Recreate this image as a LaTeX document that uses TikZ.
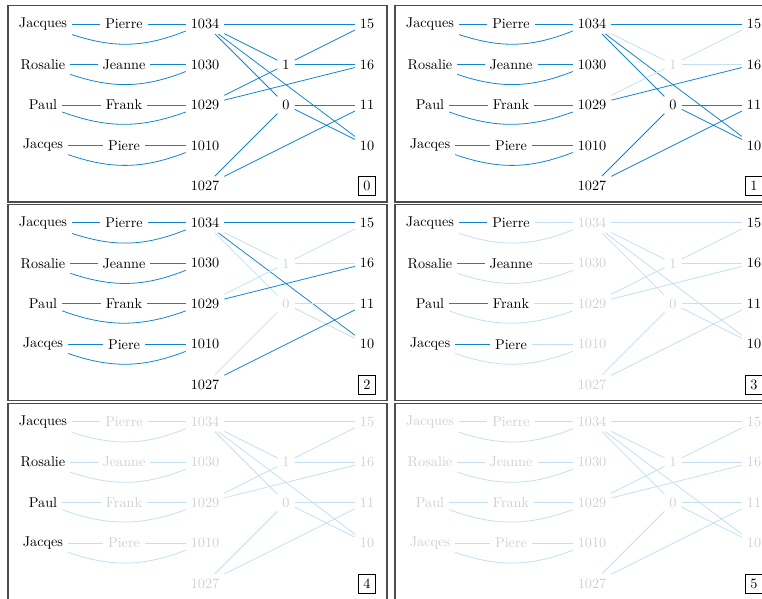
\documentclass[tikz,border=0pt]{standalone}
\definecolor{lnblue}{RGB}{16,132,204}
\colorlet{lnfade}{lnblue!25}
\colorlet{txfade}{black!18}
\colorlet{framegray}{black!70}
\tikzset{
  ton/.style={text=black},
  toff/.style={text=txfade},
  eonon/.style={draw=lnblue, line width=0.55pt},
  eonoff/.style={draw=lnfade, line width=0.55pt},
  eoffon/.style={eonoff},
  eoffoff/.style={eonoff},
  panelframe/.style={draw=framegray, line width=0.9pt},
  labelbox/.style={draw=black, line width=0.5pt}
}
% #1 xshift, #2 yshift, #3 label, #4 names, #5 middles, #6 numbers, #7 node 1, #8 node 0, #9 ends
\newcommand\mypanel[9]{%
\begin{scope}[xshift=#1cm,yshift=#2cm]
  \draw[panelframe] (-0.864,0.457) rectangle (8.494,-4.395);
  \node[t#4] (p#3a1) at (0,0) {Jacques};
  \node[t#4] (p#3a2) at (0,-1) {Rosalie};
  \node[t#4] (p#3a3) at (0,-2) {Paul};
  \node[t#4] (p#3a4) at (0,-3) {Jacqes};
  \node[t#5] (p#3b1) at (2,0) {Pierre};
  \node[t#5] (p#3b2) at (2,-1) {Jeanne};
  \node[t#5] (p#3b3) at (2,-2) {Frank};
  \node[t#5] (p#3b4) at (2,-3) {Piere};
  \node[t#6] (p#3c1) at (4,0) {1034};
  \node[t#6] (p#3c2) at (4,-1) {1030};
  \node[t#6] (p#3c3) at (4,-2) {1029};
  \node[t#6] (p#3c4) at (4,-3) {1010};
  \node[t#6] (p#3c5) at (4,-4) {1027};
  \node[t#7] (p#3m1) at (6,-1) {1};
  \node[t#8] (p#3m0) at (6,-2) {0};
  \node[t#9] (p#3e15) at (8,0) {15};
  \node[t#9] (p#3e16) at (8,-1) {16};
  \node[t#9] (p#3e11) at (8,-2) {11};
  \node[t#9] (p#3e10) at (8,-3) {10};
  \node[labelbox] (p#3lab) at (8,-4) {#3};
  \foreach \r in {1,2,3,4}{
    \draw[e#4#5] (p#3a\r) -- (p#3b\r);
    \draw[e#5#6] (p#3b\r) -- (p#3c\r);
    \draw[e#4#6] (p#3a\r) to[bend right=20] (p#3c\r);
  }
  \draw[e#6#9] (p#3c1) -- (p#3e15);
  \draw[e#6#7] (p#3c1) -- (p#3m1);
  \draw[e#6#8] (p#3c1) -- (p#3m0);
  \draw[e#6#9] (p#3c1) -- (p#3e10);
  \draw[e#7#9] (p#3m1) -- (p#3e15);
  \draw[e#7#9] (p#3m1) -- (p#3e16);
  \draw[e#6#7] (p#3c3) -- (p#3m1);
  \draw[e#6#9] (p#3c3) -- (p#3e16);
  \draw[e#8#9] (p#3m0) -- (p#3e11);
  \draw[e#8#9] (p#3m0) -- (p#3e10);
  \draw[e#6#8] (p#3c5) -- (p#3m0);
  \draw[e#6#9] (p#3c5) -- (p#3e11);
\end{scope}}
\begin{document}
\begin{tikzpicture}
  \clip (-1.0617,0.5926) rectangle (17.753,-14.173);
  \fill[white] (-1.0617,0.5926) rectangle (17.753,-14.173);
  \mypanel{0}{0}{0}{on}{on}{on}{on}{on}{on}
  \mypanel{9.556}{0}{1}{on}{on}{on}{off}{on}{on}
  \mypanel{0}{-4.91}{2}{on}{on}{on}{off}{off}{on}
  \mypanel{9.556}{-4.91}{3}{on}{on}{off}{off}{off}{on}
  \mypanel{0}{-9.82}{4}{on}{off}{off}{off}{off}{off}
  \mypanel{9.556}{-9.82}{5}{off}{off}{off}{off}{off}{off}
\end{tikzpicture}
\end{document}
